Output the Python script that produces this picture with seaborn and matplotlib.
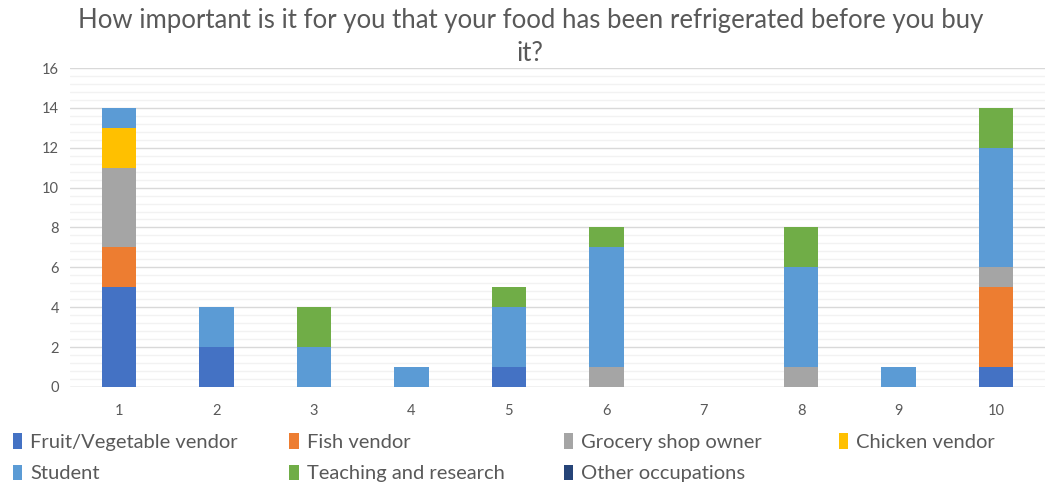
import numpy as np
import pandas as pd
import matplotlib
matplotlib.use("Agg")
import matplotlib.pyplot as plt
from matplotlib.patches import Patch
from matplotlib.ticker import MultipleLocator
import seaborn as sns

# Importance score (1-10) on the x axis
scores = ["1", "2", "3", "4", "5", "6", "7", "8", "9", "10"]

# Number of respondents per occupation at each score
fruit_veg = [5, 2, 0, 0, 1, 0, 0, 0, 0, 1]
fish = [2, 0, 0, 0, 0, 0, 0, 0, 0, 4]
grocery = [4, 0, 0, 0, 0, 1, 0, 1, 0, 1]
chicken = [2, 0, 0, 0, 0, 0, 0, 0, 0, 0]
student = [1, 2, 2, 1, 3, 6, 0, 5, 1, 6]
teaching = [0, 0, 2, 0, 1, 1, 0, 2, 0, 2]
other = [0, 0, 0, 0, 0, 0, 0, 0, 0, 0]

series_names = ["Fruit/Vegetable vendor", "Fish vendor", "Grocery shop owner",
                "Chicken vendor", "Student", "Teaching and research",
                "Other occupations"]
series_values = [fruit_veg, fish, grocery, chicken, student, teaching, other]
series_colors = ["#4472C4", "#ED7D31", "#A5A5A5", "#FFC000", "#5B9BD5",
                 "#70AD47", "#264478"]

sns.set_theme(style="white")
plt.rcParams["font.family"] = ["Lato", "DejaVu Sans"]

fig = plt.figure(figsize=(10.5, 4.86), dpi=100)
ax = fig.add_axes([0.067, 0.204, 0.928, 0.656])

bottom = np.zeros(len(scores))
for name, vals, col in zip(series_names, series_values, series_colors):
    df = pd.DataFrame({"score": scores, "count": vals})
    sns.barplot(data=df, x="score", y="count", order=scores, color=col,
                width=0.355, bottom=bottom, linewidth=0, saturation=1,
                errorbar=None, ax=ax, zorder=3)
    bottom = bottom + np.array(vals)

ax.set_ylim(0, 16)
ax.set_xlim(-0.5, len(scores) - 0.5)
ax.yaxis.set_major_locator(MultipleLocator(2))
ax.yaxis.set_minor_locator(MultipleLocator(0.4))
ax.grid(axis="y", which="major", color="#D9D9D9", linewidth=1.0, zorder=0)
ax.grid(axis="y", which="minor", color="#F2F2F2", linewidth=1.0, zorder=0)
ax.set_axisbelow(True)
for s in ax.spines.values():
    s.set_visible(False)
ax.axhline(0, color="#D9D9D9", linewidth=1.0, zorder=1)
ax.tick_params(axis="y", which="both", length=0, labelsize=10.5,
               labelcolor="#595959", pad=8)
ax.tick_params(axis="x", which="both", length=0, labelsize=10.5,
               labelcolor="#595959", pad=12)
ax.set_xlabel("")
ax.set_ylabel("")

fig.text(0.505, 0.958, "How important is it for you that your food has been refrigerated before you buy",
         ha="center", va="center", fontsize=18.5, color="#595959")
fig.text(0.505, 0.89, "it?", ha="center", va="center", fontsize=18.5,
         color="#595959")

# Legend laid out in four fixed columns, two rows
columns = [[0, 4], [1, 5], [2, 6], [3]]
col_x = [0.005, 0.268, 0.529, 0.791]
for xs, idx in zip(col_x, columns):
    handles = [Patch(facecolor=series_colors[i], edgecolor="none",
                     label=series_names[i]) for i in idx]
    fig.legend(handles=handles, loc="upper left", bbox_to_anchor=(xs, 0.125),
               frameon=False, fontsize=14.5, handlelength=0.45,
               handleheight=0.8, handletextpad=0.4, labelspacing=0.68,
               labelcolor="#595959", borderaxespad=0)

fig.savefig("out.png", dpi=100)
